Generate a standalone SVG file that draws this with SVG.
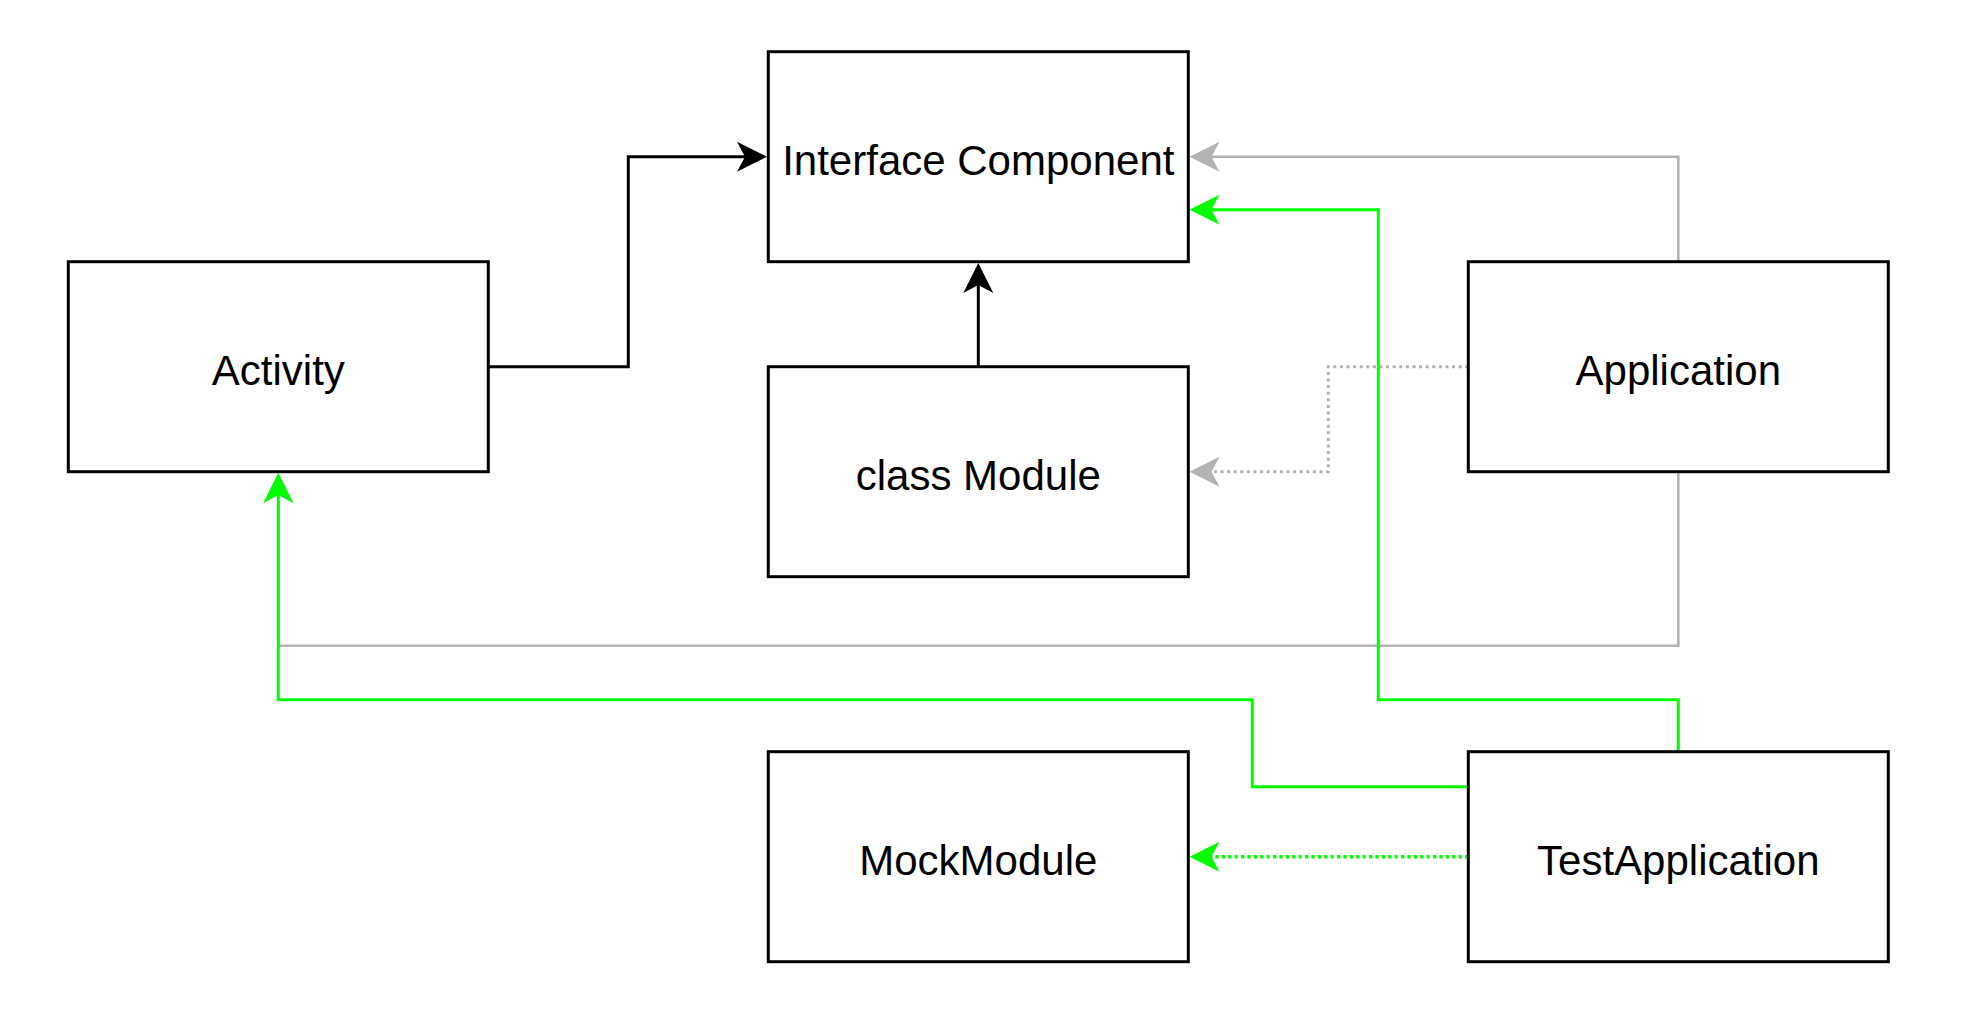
<svg xmlns="http://www.w3.org/2000/svg" width="1986" height="1034" viewBox="0 0 1986 1034">
<style>
.box{fill:#ffffff;stroke:#000000;stroke-width:3}
.lbl{font-family:"Liberation Sans",Arial,Helvetica,sans-serif;font-size:42px;fill:#000000;text-anchor:middle}
.edge{fill:none;stroke-linejoin:miter}
.blk{stroke:#000000;stroke-width:3}
.gry{stroke:#B3B3B3;stroke-width:2.6}
.grn{stroke:#00FF00;stroke-width:3}
.dotg{stroke-width:3;stroke-dasharray:3 3.6}
.dotn{stroke-width:3.6;stroke-dasharray:3.4 3}
</style>
<defs>
<marker id="aBlk" markerUnits="userSpaceOnUse" viewBox="-32 -17 34 34" refX="-20" refY="0" markerWidth="34" markerHeight="34" orient="auto">
<path d="M0,0 L-30,-15 L-22,0 L-30,15 Z" fill="#000000"/>
</marker>
<marker id="aGry" markerUnits="userSpaceOnUse" viewBox="-32 -17 34 34" refX="-20" refY="0" markerWidth="34" markerHeight="34" orient="auto">
<path d="M0,0 L-30,-15 L-22,0 L-30,15 Z" fill="#B3B3B3"/>
</marker>
<marker id="aGrn" markerUnits="userSpaceOnUse" viewBox="-32 -17 34 34" refX="-20" refY="0" markerWidth="34" markerHeight="34" orient="auto">
<path d="M0,0 L-30,-15 L-22,0 L-30,15 Z" fill="#00FF00"/>
</marker>
</defs>
<rect x="0" y="0" width="1986" height="1034" fill="#ffffff"/>
<g id="connectors">
<path id="e-app-activity" class="edge gry" d="M1678.3,471.7 L1678.3,645.7 L278.3,645.7 L278.3,493" marker-end="url(#aGry)"/>
<path id="e-activity-interface" class="edge blk" d="M488.3,366.7 L628.3,366.7 L628.3,156.7 L747,156.7" marker-end="url(#aBlk)"/>
<path id="e-module-interface" class="edge blk" d="M978.3,366.7 L978.3,283" marker-end="url(#aBlk)"/>
<path id="e-app-interface" class="edge gry" d="M1678.3,261.7 L1678.3,156.7 L1209.5,156.7" marker-end="url(#aGry)"/>
<path id="e-app-module" class="edge gry dotg" d="M1468.3,366.7 L1328.3,366.7 L1328.3,471.7 L1209.5,471.7" marker-end="url(#aGry)"/>
<path id="e-test-activity" class="edge grn" d="M1468.3,786.7 L1252.3,786.7 L1252.3,699.7 L278.3,699.7 L278.3,493" marker-end="url(#aGrn)"/>
<path id="e-test-interface" class="edge grn" d="M1678.3,751.7 L1678.3,699.7 L1378.3,699.7 L1378.3,209.7 L1209.5,209.7" marker-end="url(#aGrn)"/>
<path id="e-test-mock" class="edge grn dotn" d="M1468.3,856.7 L1209.5,856.7" marker-end="url(#aGrn)"/>
</g>
<g id="node-interface">
<rect class="box" x="768.3" y="51.7" width="420" height="210"/>
<text class="lbl" x="978.3" y="174.7">Interface Component</text>
</g>
<g id="node-activity">
<rect class="box" x="68.3" y="261.7" width="420" height="210"/>
<text class="lbl" x="278.3" y="384.7">Activity</text>
</g>
<g id="node-module">
<rect class="box" x="768.3" y="366.7" width="420" height="210"/>
<text class="lbl" x="978.3" y="489.7">class Module</text>
</g>
<g id="node-application">
<rect class="box" x="1468.3" y="261.7" width="420" height="210"/>
<text class="lbl" x="1678.3" y="384.7">Application</text>
</g>
<g id="node-mockmodule">
<rect class="box" x="768.3" y="751.7" width="420" height="210"/>
<text class="lbl" x="978.3" y="874.7">MockModule</text>
</g>
<g id="node-testapplication">
<rect class="box" x="1468.3" y="751.7" width="420" height="210"/>
<text class="lbl" x="1678.3" y="874.7">TestApplication</text>
</g>
</svg>
